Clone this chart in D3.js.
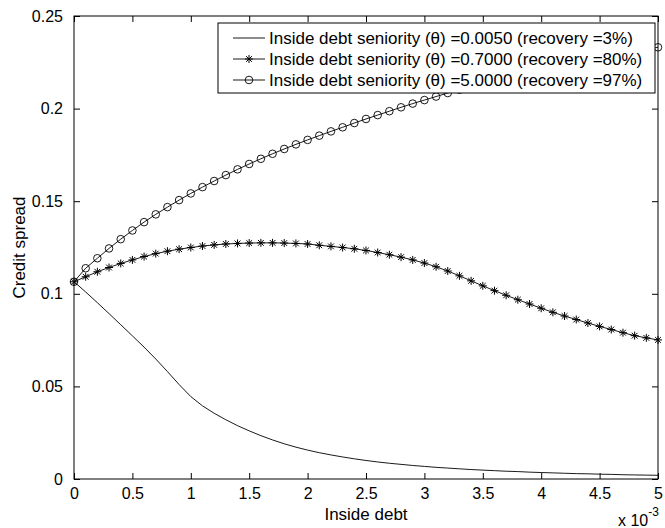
<!DOCTYPE html>
<html><head><meta charset="utf-8">
<script src="https://cdn.jsdelivr.net/npm/d3@7"></script>
<style>
html,body{margin:0;padding:0;background:#fff;}
svg{display:block;font-family:"Liberation Sans",Arial,Helvetica,sans-serif;}
</style></head>
<body>
<svg id="chart" width="665" height="528"></svg>
<script>
// Inside debt (x 10^-3)
const insideDebt = [0,0.1,0.2,0.3,0.4,0.5,0.6,0.7,0.8,0.9,1.0,1.1,1.2,1.3,1.4,1.5,1.6,1.7,1.8,1.9,2.0,2.1,2.2,2.3,2.4,2.5,2.6,2.7,2.8,2.9,3.0,3.1,3.2,3.3,3.4,3.5,3.6,3.7,3.8,3.9,4.0,4.1,4.2,4.3,4.4,4.5,4.6,4.7,4.8,4.9,5.0];
// theta = 0.0050 (recovery 3%)
const spreadTheta0050 = [0.1065,0.1010,0.0952,0.0893,0.0833,0.0773,0.0712,0.0648,0.0580,0.0510,0.0445,0.0395,0.0355,0.0320,0.0288,0.0260,0.0234,0.0211,0.0190,0.0172,0.0156,0.0142,0.0130,0.0119,0.0109,0.0100,0.0092,0.0085,0.0079,0.0073,0.0068,0.0063,0.0059,0.0055,0.0051,0.0048,0.0045,0.0042,0.0040,0.0037,0.0035,0.0033,0.0031,0.0029,0.0028,0.0026,0.0025,0.0023,0.0022,0.0021,0.0020];
// theta = 0.7000 (recovery 80%)
const spreadTheta7000 = [0.1065,0.1092,0.1119,0.1142,0.1164,0.1183,0.1201,0.1217,0.1230,0.1241,0.1250,0.1258,0.1264,0.1269,0.1272,0.1274,0.1275,0.1275,0.1274,0.1272,0.1269,0.1262,0.1256,0.1250,0.1243,0.1234,0.1223,0.1211,0.1198,0.1183,0.1166,0.1146,0.1123,0.1097,0.1070,0.1043,0.1017,0.0992,0.0968,0.0945,0.0922,0.0900,0.0880,0.0861,0.0842,0.0824,0.0807,0.0790,0.0774,0.0762,0.0751];
// theta = 5.0000 (recovery 97%)
const spreadTheta50000 = [0.1065,0.1138,0.1192,0.1245,0.1295,0.1342,0.1387,0.1429,0.1468,0.1506,0.1542,0.1576,0.1609,0.1641,0.1672,0.1701,0.1729,0.1756,0.1782,0.1807,0.1831,0.1854,0.1877,0.1899,0.1922,0.1944,0.1965,0.1986,0.2007,0.2027,0.2046,0.2065,0.2084,0.2102,0.2119,0.2136,0.2153,0.2169,0.2184,0.2199,0.2214,0.2228,0.2241,0.2254,0.2267,0.2279,0.2290,0.2301,0.2312,0.2322,0.2331];

const xTicks = [0,0.5,1,1.5,2,2.5,3,3.5,4,4.5,5];
const xTickLabels = ["0","0.5","1","1.5","2","2.5","3","3.5","4","4.5","5"];
const yTicks = [0,0.05,0.1,0.15,0.2,0.25];
const yTickLabels = ["0","0.05","0.1","0.15","0.2","0.25"];
const legendLabels = [
  "Inside debt seniority (\u03B8) =0.0050 (recovery =3%)",
  "Inside debt seniority (\u03B8) =0.7000 (recovery =80%)",
  "Inside debt seniority (\u03B8) =5.0000 (recovery =97%)"
];
const markerTypes = ["none","star","circle"];

const L = 74, R = 658, T = 16, B = 479;
const svg = d3.select("#chart");
const x = d3.scaleLinear().domain([0,5]).range([L,R]);
const y = d3.scaleLinear().domain([0,0.25]).range([B,T]);

const tickLen = 6;
const fs = 16;

// axes with inward ticks, box
const gBottom = svg.append("g").attr("transform",`translate(0,${B})`)
  .call(d3.axisBottom(x).tickValues(xTicks).tickSizeInner(-tickLen).tickSizeOuter(0).tickPadding(9)
    .tickFormat((d,i)=>xTickLabels[i]));
const gTop = svg.append("g").attr("transform",`translate(0,${T})`)
  .call(d3.axisTop(x).tickValues(xTicks).tickSizeInner(-tickLen).tickSizeOuter(0).tickFormat(""));
const gLeft = svg.append("g").attr("transform",`translate(${L},0)`)
  .call(d3.axisLeft(y).tickValues(yTicks).tickSizeInner(-tickLen).tickSizeOuter(0).tickPadding(11)
    .tickFormat((d,i)=>yTickLabels[i]));
const gRight = svg.append("g").attr("transform",`translate(${R},0)`)
  .call(d3.axisRight(y).tickValues(yTicks).tickSizeInner(-tickLen).tickSizeOuter(0).tickFormat(""));
[gBottom,gTop,gLeft,gRight].forEach(g=>{
  g.select(".domain").remove();
  g.selectAll("line").attr("stroke","#000").attr("stroke-width",1);
  g.selectAll("text").attr("fill","#000").style("font-size",fs+"px").style("font-family",'"Liberation Sans",Arial,sans-serif');
});
svg.append("rect").attr("x",L).attr("y",T).attr("width",R-L).attr("height",B-T)
  .attr("fill","none").attr("stroke","#000").attr("stroke-width",1);

// series
const series = [spreadTheta0050, spreadTheta7000, spreadTheta50000];
const line = d3.line().x((d,i)=>x(insideDebt[i])).y(d=>y(d));
const starPath = s => `M${-s},0L${s},0M0,${-s}L0,${s}M${-s*0.72},${-s*0.72}L${s*0.72},${s*0.72}M${-s*0.72},${s*0.72}L${s*0.72},${-s*0.72}`;

function drawMarker(g, type, cx, cy){
  if(type==="circle"){
    g.append("circle").attr("cx",cx).attr("cy",cy).attr("r",3.8)
      .attr("fill","none").attr("stroke","#000").attr("stroke-width",0.9);
  } else if(type==="star"){
    g.append("path").attr("d",starPath(4)).attr("transform",`translate(${cx},${cy})`)
      .attr("fill","none").attr("stroke","#000").attr("stroke-width",1);
  }
}

series.forEach((vals,k)=>{
  const g = svg.append("g");
  g.append("path").datum(vals).attr("d",line).attr("fill","none").attr("stroke","#000").attr("stroke-width",0.9);
  vals.forEach((v,i)=>drawMarker(g, markerTypes[k], x(insideDebt[i]), y(v)));
});

// legend
const lg = svg.append("g");
lg.append("rect").attr("x",218).attr("y",23).attr("width",437).attr("height",70)
  .attr("fill","#fff").attr("stroke","#000").attr("stroke-width",1);
legendLabels.forEach((lab,k)=>{
  const cy = 38 + k*21;
  lg.append("line").attr("x1",233).attr("x2",265).attr("y1",cy).attr("y2",cy).attr("stroke","#000").attr("stroke-width",0.9);
  drawMarker(lg, markerTypes[k], 249, cy);
  lg.append("text").attr("x",269).attr("y",cy).attr("dy","0.36em").style("font-size","17px").text(lab);
});

// labels
svg.append("text").attr("x",(L+R)/2).attr("y",520).attr("text-anchor","middle").style("font-size","17px").text("Inside debt");
svg.append("text").attr("transform",`translate(25,${(T+B)/2}) rotate(-90)`).attr("text-anchor","middle").style("font-size","17px").text("Credit spread");
const ex = svg.append("text").attr("x",618).attr("y",526).style("font-size","16px");
ex.append("tspan").text("x 10");
ex.append("tspan").attr("dy",-10).style("font-size","12px").text("-3");
</script>
</body></html>
